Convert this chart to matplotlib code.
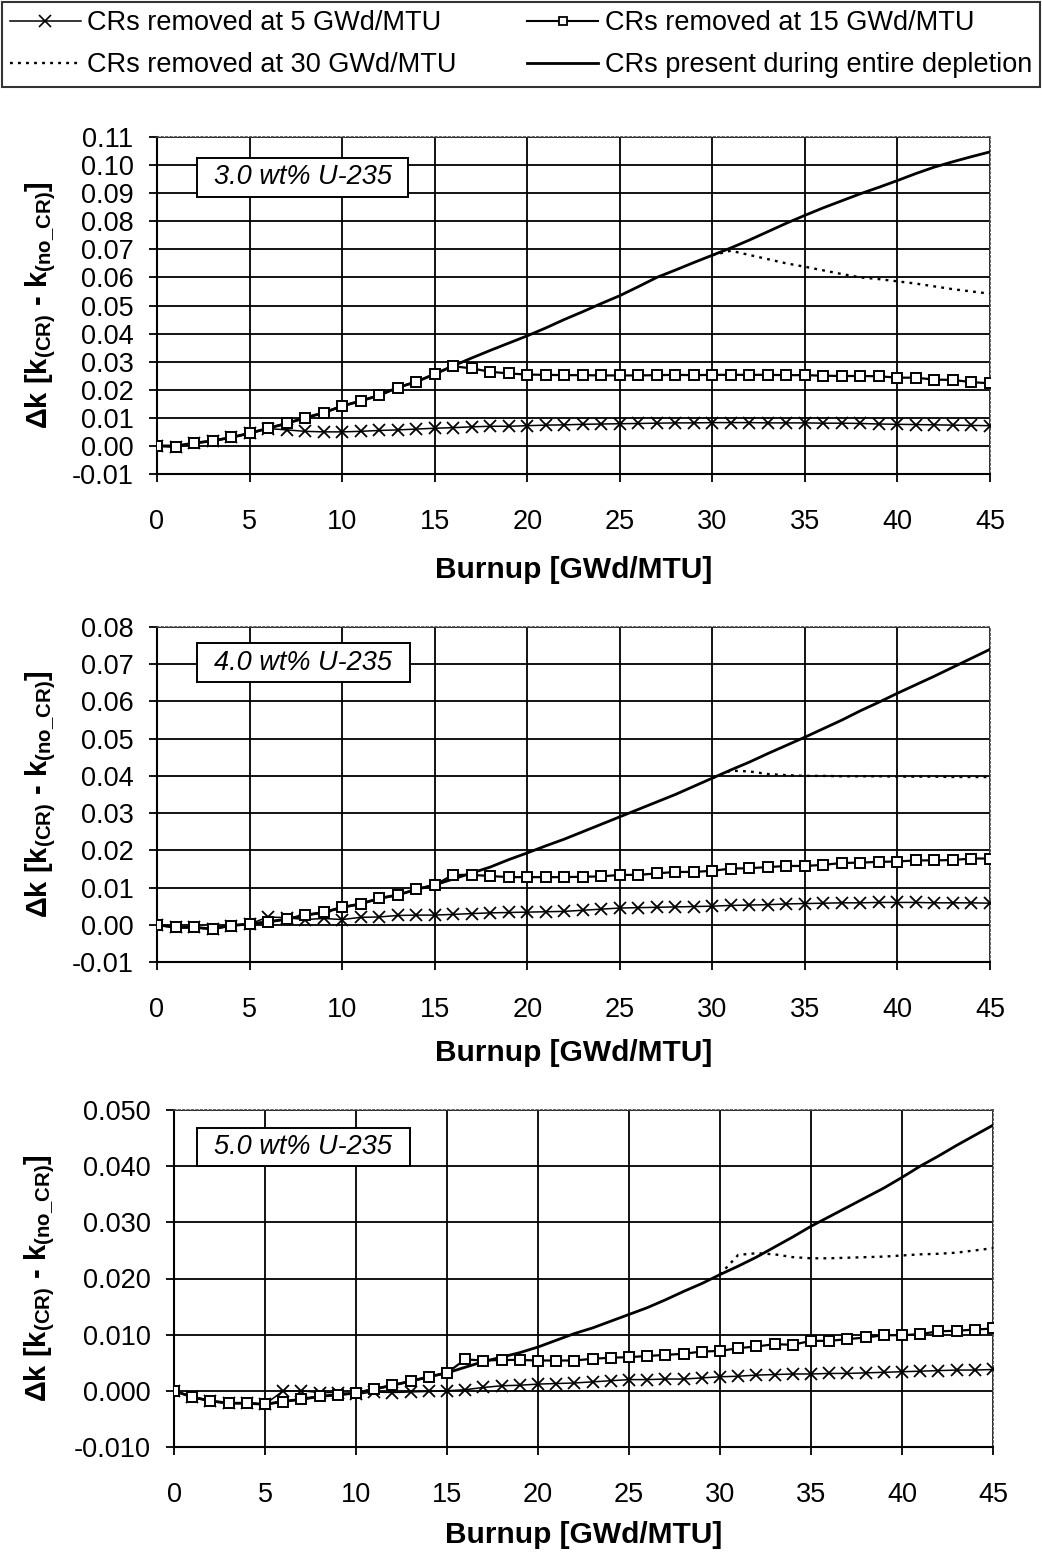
import matplotlib
matplotlib.use("Agg")
import matplotlib.pyplot as plt
from matplotlib.lines import Line2D
from matplotlib.patches import Rectangle

plt.rcParams['font.family'] = ['Liberation Sans', 'DejaVu Sans']
plt.rcParams['mathtext.fontset'] = 'custom'
plt.rcParams['mathtext.rm'] = 'Liberation Sans:bold'
plt.rcParams['mathtext.it'] = 'Liberation Sans:bold'
plt.rcParams['mathtext.bf'] = 'Liberation Sans:bold'

# Burnup steps (GWd/MTU)
burnup = list(range(0, 46))
burnup_late = list(range(30, 46))

series_labels = ["CRs removed at 5 GWd/MTU", "CRs removed at 30 GWd/MTU",
                 "CRs removed at 15 GWd/MTU", "CRs present during entire depletion"]
panel_titles = ["3.0 wt% U-235", "4.0 wt% U-235", "5.0 wt% U-235"]
x_ticks = [0, 5, 10, 15, 20, 25, 30, 35, 40, 45]
y_ticks_3 = [-0.01, 0.00, 0.01, 0.02, 0.03, 0.04, 0.05, 0.06, 0.07, 0.08, 0.09, 0.10, 0.11]
y_ticks_4 = [-0.01, 0.00, 0.01, 0.02, 0.03, 0.04, 0.05, 0.06, 0.07, 0.08]
y_ticks_5 = [-0.010, 0.000, 0.010, 0.020, 0.030, 0.040, 0.050]

# ---- 3.0 wt% U-235 ----
present_3 = [0.000, 0.000, 0.001, 0.0018, 0.003, 0.0045, 0.0063, 0.008, 0.010, 0.0118,
             0.0142, 0.016, 0.018, 0.0208, 0.0228, 0.0256, 0.0285, 0.0313, 0.034, 0.0366,
             0.0392, 0.042, 0.045, 0.0478, 0.0507, 0.0535, 0.0567, 0.060, 0.0626, 0.0653,
             0.0679, 0.0705, 0.0733, 0.0763, 0.0793, 0.0821, 0.0848, 0.0873, 0.0898, 0.0921,
             0.0945, 0.097, 0.0993, 0.1012, 0.103, 0.1047]
rem30_3 = [0.0679, 0.0695, 0.068, 0.0665, 0.065, 0.0638, 0.0625, 0.0612, 0.060, 0.0594,
           0.0586, 0.0578, 0.0568, 0.0558, 0.055, 0.0542]
rem15_3 = [0.000, -0.0003, 0.001, 0.0018, 0.003, 0.0045, 0.0063, 0.008, 0.010, 0.0118,
           0.0142, 0.016, 0.018, 0.0208, 0.0228, 0.0256, 0.0284, 0.0276, 0.0264, 0.0258,
           0.0254, 0.0253, 0.0252, 0.0252, 0.0251, 0.0251, 0.0251, 0.0252, 0.0253, 0.0252,
           0.0253, 0.0253, 0.0253, 0.0253, 0.0252, 0.0252, 0.0250, 0.0249, 0.0249, 0.0248,
           0.0243, 0.0243, 0.0236, 0.0235, 0.0227, 0.0223]
rem5_3 = [0.000, -0.0003, 0.001, 0.0018, 0.003, 0.0045, 0.0062, 0.0057, 0.0052, 0.005,
          0.005, 0.0052, 0.0055, 0.0057, 0.006, 0.0063, 0.0065, 0.0068, 0.007, 0.007,
          0.0072, 0.0074, 0.0075, 0.0077, 0.0078, 0.0079, 0.008, 0.0081, 0.0082, 0.0082,
          0.0083, 0.0083, 0.0083, 0.0082, 0.0082, 0.0082, 0.0081, 0.0081, 0.008, 0.0078,
          0.0077, 0.0076, 0.0075, 0.0074, 0.0073, 0.0072]

# ---- 4.0 wt% U-235 ----
present_4 = [0.000, -0.0007, -0.0007, -0.0011, -0.0002, 0.0002, 0.0008, 0.0015, 0.0026, 0.0033,
             0.0047, 0.0056, 0.0071, 0.008, 0.0095, 0.0107, 0.0123, 0.0139, 0.0155, 0.0175,
             0.0193, 0.0212, 0.023, 0.025, 0.027, 0.029, 0.031, 0.033, 0.035, 0.0372,
             0.0394, 0.0416, 0.0437, 0.046, 0.0482, 0.0504, 0.0527, 0.055, 0.0575, 0.0598,
             0.0622, 0.0645, 0.0668, 0.0692, 0.0716, 0.074]
rem30_4 = [0.0394, 0.0414, 0.0412, 0.0405, 0.0402, 0.0400, 0.0400, 0.0399, 0.0399, 0.0399,
           0.0398, 0.0398, 0.0398, 0.0397, 0.0397, 0.0397]
rem15_4 = [0.000, -0.0007, -0.0007, -0.0011, -0.0002, 0.0002, 0.0008, 0.0015, 0.0026, 0.0033,
           0.0047, 0.0056, 0.0071, 0.008, 0.0095, 0.0107, 0.0134, 0.0134, 0.0131, 0.0128,
           0.0128, 0.0128, 0.0128, 0.0129, 0.0130, 0.0134, 0.0134, 0.0138, 0.0142, 0.0142,
           0.0145, 0.0151, 0.0152, 0.0155, 0.0158, 0.0158, 0.0161, 0.0166, 0.0167, 0.0169,
           0.017, 0.0173, 0.0173, 0.0174, 0.0178, 0.0178]
rem5_4 = [0.000, -0.0007, -0.0007, -0.0011, -0.0002, 0.0002, 0.0021, 0.0019, 0.0014, 0.0017,
          0.0014, 0.002, 0.0021, 0.0025, 0.0026, 0.0026, 0.0028, 0.003, 0.0032, 0.0033,
          0.0034, 0.0035, 0.0036, 0.0039, 0.0042, 0.0045, 0.0046, 0.0047, 0.0048, 0.0049,
          0.005, 0.0052, 0.0053, 0.0054, 0.0056, 0.0057, 0.0058, 0.0059, 0.0059, 0.006,
          0.006, 0.006, 0.0059, 0.0059, 0.0059, 0.0058]

# ---- 5.0 wt% U-235 ----
present_5 = [0.000, -0.0011, -0.0018, -0.0022, -0.0022, -0.0024, -0.0019, -0.0015, -0.001, -0.0007,
             -0.0004, 0.0003, 0.001, 0.0017, 0.0025, 0.0032, 0.0042, 0.0052, 0.006, 0.0068,
             0.0078, 0.009, 0.0102, 0.0112, 0.0124, 0.0136, 0.0148, 0.0162, 0.0177, 0.0191,
             0.0207, 0.0222, 0.0238, 0.0256, 0.0274, 0.0293, 0.031, 0.0327, 0.0344, 0.0361,
             0.0380, 0.0400, 0.0418, 0.0437, 0.0455, 0.0473]
rem30_5 = [0.0207, 0.0242, 0.0245, 0.0243, 0.0238, 0.0236, 0.0236, 0.0237, 0.0238, 0.0239,
           0.0241, 0.0243, 0.0244, 0.0246, 0.0250, 0.0254]
rem15_5 = [0.000, -0.0011, -0.0018, -0.0022, -0.0022, -0.0024, -0.0019, -0.0015, -0.001, -0.0007,
           -0.0004, 0.0003, 0.001, 0.0017, 0.0025, 0.0032, 0.0056, 0.0054, 0.0055, 0.0055,
           0.0054, 0.0054, 0.0054, 0.0057, 0.0059, 0.006, 0.0062, 0.0064, 0.0066, 0.007,
           0.0071, 0.0076, 0.0079, 0.0083, 0.0082, 0.0089, 0.0089, 0.0092, 0.0095, 0.0099,
           0.0099, 0.0101, 0.0106, 0.0107, 0.0109, 0.0111]
rem5_5 = [0.000, -0.0011, -0.0018, -0.0022, -0.0022, -0.0024, 0.0000, 0.0000, -0.0003, -0.0003,
          -0.0006, -0.0002, -0.0003, -0.0002, -0.0001, 0.0000, 0.0002, 0.0006, 0.0009, 0.001,
          0.0012, 0.0013, 0.0014, 0.0016, 0.0018, 0.002, 0.002, 0.0021, 0.0021, 0.0023,
          0.0025, 0.0026, 0.0028, 0.0029, 0.003, 0.003, 0.0031, 0.0031, 0.0032, 0.0033,
          0.0034, 0.0035, 0.0036, 0.0037, 0.0037, 0.0038]

panels = [
    (present_3, rem30_3, rem15_3, rem5_3, y_ticks_3, "%.2f"),
    (present_4, rem30_4, rem15_4, rem5_4, y_ticks_4, "%.2f"),
    (present_5, rem30_5, rem15_5, rem5_5, y_ticks_5, "%.3f"),
]

W, H = 1042, 1557
fig = plt.figure(figsize=(W / 100, H / 100), dpi=100)

# axes boxes in pixel coordinates: left, top, right, bottom
boxes = [(157, 137, 990, 474), (157, 627, 990, 962), (174, 1110, 993, 1447)]
ylabel_x = [-0.140, -0.140, -0.164]
xlabel_y = [-0.285, -0.272, -0.262]
# enrichment tag boxes in pixel coordinates: left, top, right, bottom
tag_boxes = [(197, 158, 408, 197), (197, 643, 410, 682), (197, 1128, 410, 1166)]

ylab = r'$\Delta$k [k$_{\mathregular{(CR)}}$ - k$_{\mathregular{(no\_CR)}}$]'

TICK_FS = 19.5
DOT = (0, (1.2, 2.2))
for i, (pres, r30, r15, r5, yt, fmt) in enumerate(panels):
    l, t, r, b = boxes[i]
    ax = fig.add_axes([l / W, 1 - b / H, (r - l) / W, (b - t) / H])
    ax.set_xlim(0, 45)
    ax.set_ylim(yt[0], yt[-1])
    ax.set_xticks(x_ticks)
    ax.set_yticks(yt)
    ax.set_yticklabels([fmt % v for v in yt])
    ax.grid(True, color='black', linewidth=1.3)
    ax.set_axisbelow(True)
    for s in ['top', 'right']:
        ax.spines[s].set_linestyle(':')
        ax.spines[s].set_linewidth(1.2)
        ax.spines[s].set_color('#444444')
    for s in ['left', 'bottom']:
        ax.spines[s].set_linewidth(1.5)
    ax.tick_params(axis='both', direction='out', length=6, width=1.3,
                   labelsize=TICK_FS, color='black')
    ax.tick_params(axis='x', pad=19)
    ax.tick_params(axis='y', pad=11)

    ax.plot(burnup, pres, color='black', linewidth=2.0, zorder=3)
    ax.plot(burnup_late, r30, color='black', linewidth=1.7, linestyle=DOT, zorder=3)
    ax.plot(burnup, r5, color='black', linewidth=1.1, marker='x', markersize=8.5,
            markeredgewidth=1.3, zorder=4)
    ax.plot(burnup, r15, color='black', linewidth=1.6, marker='s', markersize=7.5,
            markerfacecolor='white', markeredgecolor='black', markeredgewidth=1.4, zorder=5)

    # enrichment tag
    bl, bt, br, bb = tag_boxes[i]
    x0 = (bl - l) / (r - l)
    x1 = (br - l) / (r - l)
    y0 = (b - bb) / (b - t)
    y1 = (b - bt) / (b - t)
    ax.add_patch(Rectangle((x0, y0), x1 - x0, y1 - y0, transform=ax.transAxes,
                           facecolor='white', edgecolor='black', linewidth=1.4, zorder=6))
    ax.text((x0 + x1) / 2, (y0 + y1) / 2, panel_titles[i], transform=ax.transAxes,
            fontsize=19.5, fontstyle='italic', ha='center', va='center', zorder=7)

    ax.set_xlabel('Burnup [GWd/MTU]', fontsize=21.5, fontweight='bold', va='center')
    ax.xaxis.set_label_coords(0.5, xlabel_y[i])
    ax.set_ylabel(ylab, fontsize=21, fontweight='bold', va='center')
    ax.yaxis.set_label_coords(ylabel_x[i], 0.5)

handles = [
    Line2D([], [], color='black', linewidth=1.1, marker='x', markersize=8, markeredgewidth=1.2),
    Line2D([], [], color='black', linewidth=1.7, linestyle=DOT),
    Line2D([], [], color='black', linewidth=1.5, marker='s', markersize=6,
           markerfacecolor='white', markeredgewidth=1.3),
    Line2D([], [], color='black', linewidth=2.0),
]
leg = fig.legend(handles, series_labels, loc='upper left',
                 bbox_to_anchor=(2 / W, 1 - 88 / H, 1038 / W, 86 / H), mode='expand',
                 ncol=2, fontsize=19.5, frameon=True, fancybox=False, edgecolor='black',
                 handlelength=2.6, handletextpad=0.25, columnspacing=2.0, borderpad=0.3,
                 labelspacing=0.6, borderaxespad=0)
leg.get_frame().set_linewidth(1.5)

fig.savefig('out.png', dpi=100, facecolor='white')
